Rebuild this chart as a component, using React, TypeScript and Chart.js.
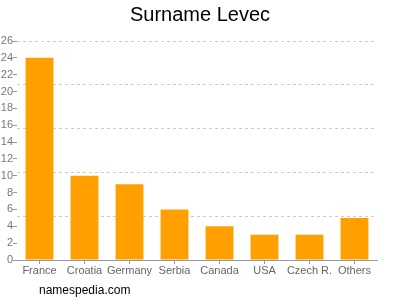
import React, { useEffect, useRef } from "react";
import { Chart, registerables } from "chart.js";

Chart.register(...registerables);

const categories = ["France", "Croatia", "Germany", "Serbia", "Canada", "USA", "Czech R.", "Others"];
const counts = [24, 10, 9, 6, 4, 3, 3, 5];
const titleText = "Surname Levec";
const footerText = "namespedia.com";

export default function App() {
  const ref = useRef<HTMLCanvasElement>(null);
  useEffect(() => {
    const footer = {
      id: "footer",
      afterDraw(chart: any) {
        const ctx = chart.ctx;
        ctx.save();
        ctx.font = '12px "Liberation Sans", Arial, sans-serif';
        ctx.fillStyle = "#000";
        ctx.textBaseline = "middle";
        ctx.textAlign = "left";
        ctx.fillText(footerText, 39, 291);
        ctx.restore();
      },
    };
    const chart = new Chart(ref.current!, {
      type: "bar",
      data: {
        labels: categories,
        datasets: [
          {
            data: counts,
            backgroundColor: "#ffa000",
            borderWidth: 0,
            categoryPercentage: 1,
            barPercentage: 0.62,
          },
        ],
      },
      plugins: [footer],
      options: {
        animation: false,
        responsive: false,
        layout: { padding: 0 },
        plugins: {
          legend: { display: false },
          tooltip: { enabled: false },
          title: {
            display: true,
            text: titleText,
            color: "#000",
            font: { family: '"Liberation Sans", Arial, sans-serif', size: 20, weight: "normal" },
            padding: { top: 3, bottom: 14 },
          },
        },
        scales: {
          x: {
            grid: { display: true, drawOnChartArea: false, drawTicks: true, tickLength: 4, offset: false, color: "#999" },
            border: { display: true, color: "#999" },
            ticks: {
              color: "#666",
              padding: 0,
              autoSkip: false,
              maxRotation: 0,
              font: { family: '"Liberation Sans", Arial, sans-serif', size: 11 },
            },
            afterFit: (s: any) => {
              s.height = 40;
            },
          },
          y: {
            position: "left",
            min: 0,
            max: 26,
            grid: { display: true, drawOnChartArea: false, drawTicks: true, tickLength: 4, color: "#999" },
            border: { display: false },
            ticks: {
              stepSize: 2,
              color: "#777",
              padding: 0,
              font: { family: '"Liberation Sans", Arial, sans-serif', size: 11 },
            },
            afterFit: (s: any) => {
              s.width = 17;
            },
          },
          y2: {
            position: "right",
            min: 0,
            max: 26,
            grid: { display: true, drawTicks: false, tickLength: 0, color: "#cccccc" },
            border: { display: false, dash: [3, 3] },
            ticks: { display: false, stepSize: 5.2 },
            afterFit: (s: any) => {
              s.width = 23;
            },
          },
        },
      } as any,
    });
    return () => chart.destroy();
  }, []);
  return (
    <div style={{ position: "fixed", left: 0, top: 0, width: 400, height: 300 }}>
      <canvas ref={ref} width={400} height={300} />
    </div>
  );
}
